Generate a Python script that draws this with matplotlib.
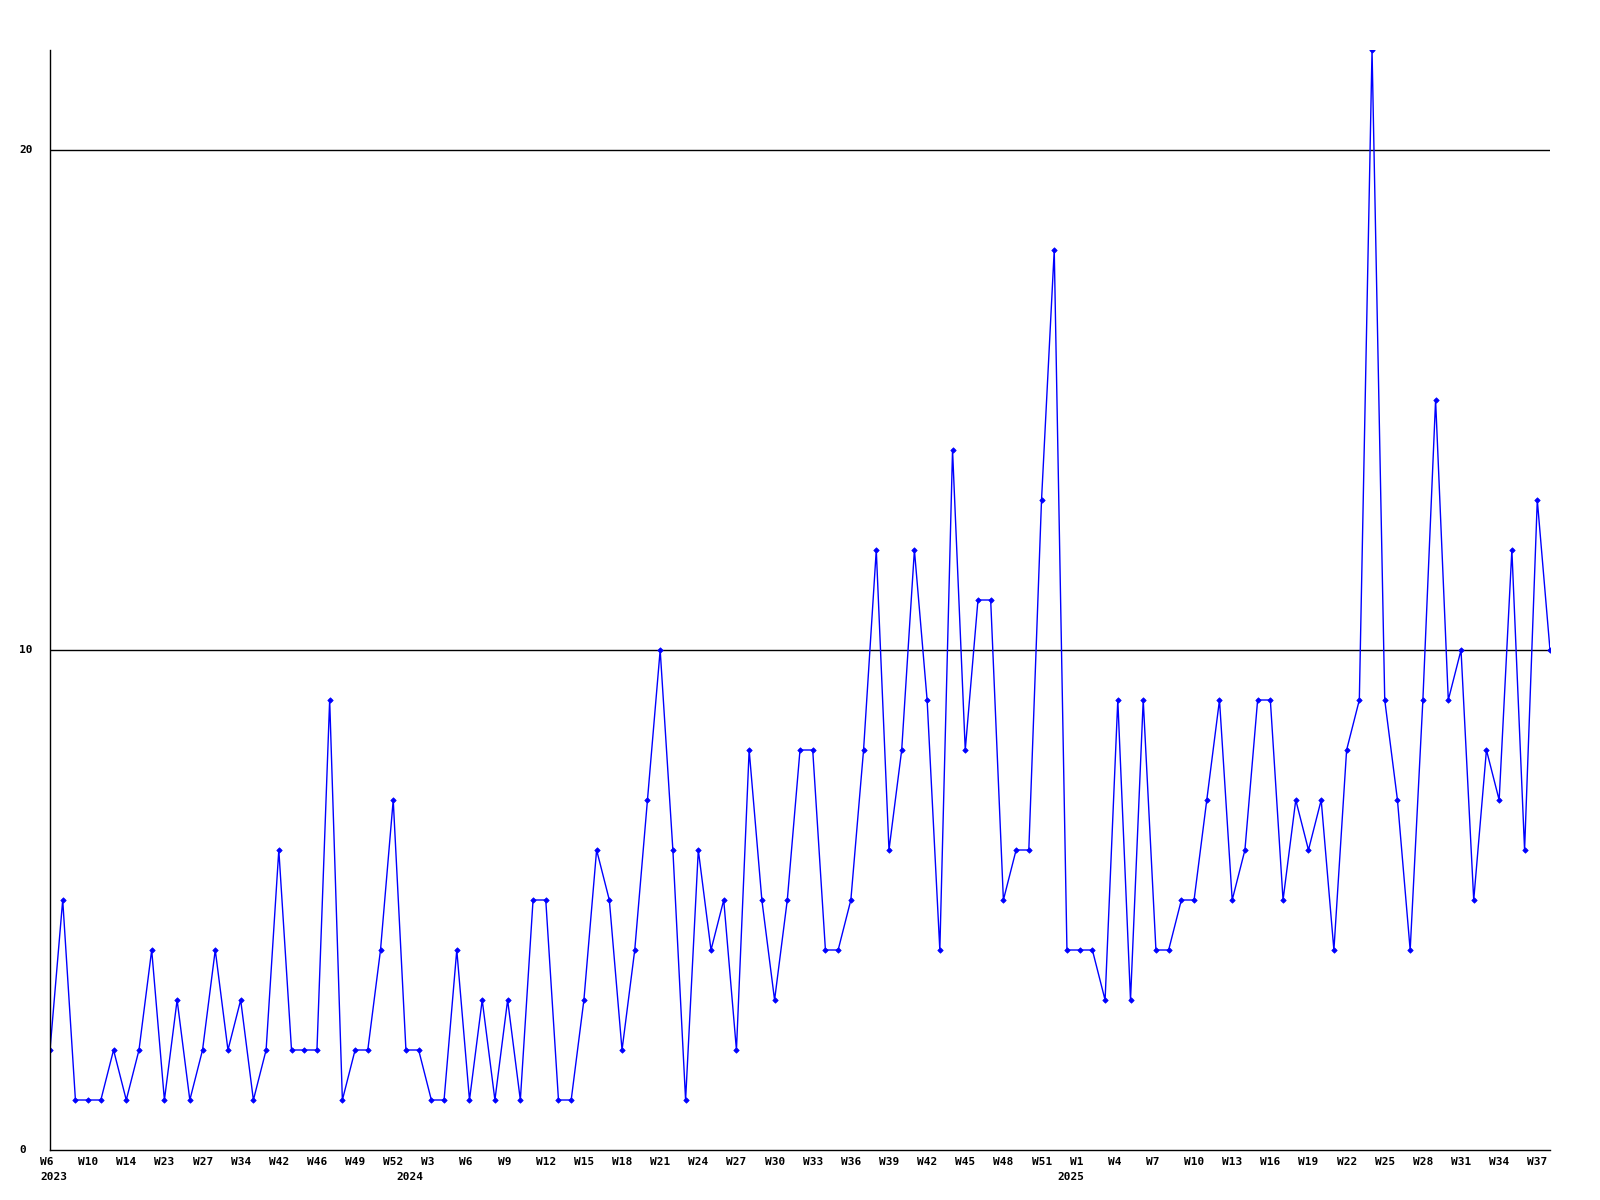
import matplotlib
matplotlib.use('Agg')
import matplotlib.pyplot as plt
import matplotlib.transforms as mtransforms

# --- data: weekly counts (weeks without data are skipped) ---
nilai = [2, 5, 1, 1, 1, 2, 1, 2, 4, 1, 3, 1, 2, 4, 2, 3, 1, 2, 6, 2,
         2, 2, 9, 1, 2, 2, 4, 7, 2, 2, 1, 1, 4, 1, 3, 1, 3, 1, 5, 5,
         1, 1, 3, 6, 5, 2, 4, 7, 10, 6, 1, 6, 4, 5, 2, 8, 5, 3, 5, 8,
         8, 4, 4, 5, 8, 12, 6, 8, 12, 9, 4, 14, 8, 11, 11, 5, 6, 6, 13, 18,
         4, 4, 4, 3, 9, 3, 9, 4, 4, 5, 5, 7, 9, 5, 6, 9, 9, 5, 7, 6,
         7, 4, 8, 9, 22, 9, 7, 4, 9, 15, 9, 10, 5, 8, 7, 12, 6, 13, 10]

# label minggu, satu label tiap 3 titik
label_minggu = ['W6', 'W10', 'W14', 'W23', 'W27', 'W34', 'W42', 'W46', 'W49', 'W52',
                'W3', 'W6', 'W9', 'W12', 'W15', 'W18', 'W21', 'W24', 'W27', 'W30',
                'W33', 'W36', 'W39', 'W42', 'W45', 'W48', 'W51', 'W1', 'W4', 'W7',
                'W10', 'W13', 'W16', 'W19', 'W22', 'W25', 'W28', 'W31', 'W34', 'W37']
label_step = 3

# tahun dan posisi titik pertama tahun itu
tahun = ['2023', '2024', '2025']
tahun_pos = [0, 28, 80]

y_grid = [10, 20]

fig = plt.figure(figsize=(16, 12), dpi=100)
ax = fig.add_axes([50 / 1600, 50 / 1200, 1500 / 1600, 1100 / 1200])

x = list(range(len(nilai)))
ax.plot(x, nilai, color='#0000ff', linewidth=1.0, marker='D', markersize=2.8,
        markeredgewidth=0.5)

ax.set_xlim(0, len(nilai) - 1)
ax.set_ylim(0, 22)

# garis grid horizontal hitam
for g in y_grid:
    ax.axhline(g, color='black', linewidth=1.0, zorder=0)

# cuma sumbu kiri dan bawah
ax.spines['top'].set_visible(False)
ax.spines['right'].set_visible(False)
ax.spines['left'].set_linewidth(1.0)
ax.spines['bottom'].set_linewidth(1.0)
ax.set_xticks([])
ax.set_yticks([])

font = dict(family='DejaVu Sans Mono', fontweight='bold', fontsize=8)

# label sumbu Y (rata kiri di pinggir gambar)
for v in [0] + y_grid:
    trans = mtransforms.blended_transform_factory(fig.transFigure, ax.transData)
    ax.text(19 / 1600, v, str(v), transform=trans, ha='left', va='center', **font)

# label minggu dan tahun di bawah
offset = mtransforms.ScaledTranslation(-10 / 100, 0, fig.dpi_scale_trans)
trans_x = mtransforms.blended_transform_factory(ax.transData, fig.transFigure) + offset
for i, lab in enumerate(label_minggu):
    ax.text(i * label_step, 1 - 1162 / 1200, lab, transform=trans_x,
            ha='left', va='center', **font)
for t, p in zip(tahun, tahun_pos):
    ax.text(p, 1 - 1177 / 1200, t, transform=trans_x, ha='left', va='center', **font)

plt.savefig('out.png', dpi=100)
